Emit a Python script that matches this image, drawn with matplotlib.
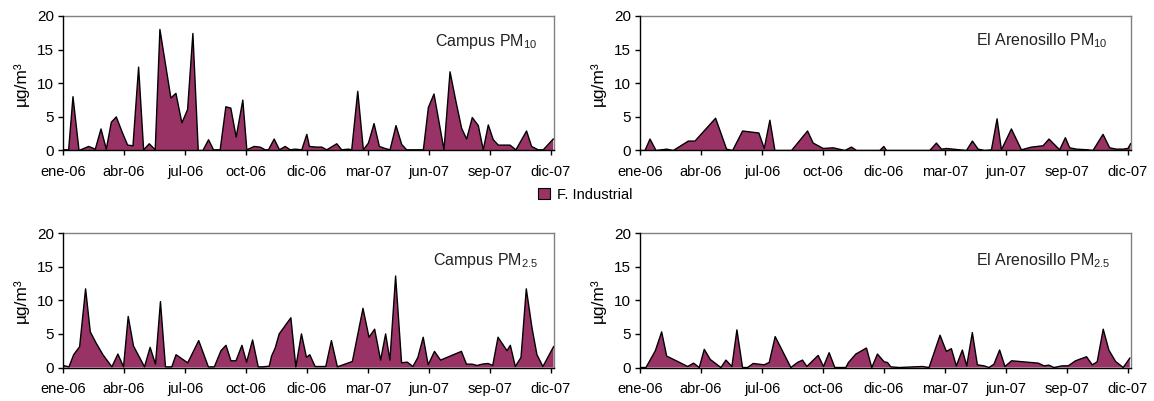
import matplotlib
matplotlib.use("Agg")
import matplotlib.pyplot as plt
from matplotlib.patches import Patch

plt.rcParams["font.family"] = ["Liberation Sans", "DejaVu Sans"]
plt.rcParams["mathtext.fontset"] = "custom"
plt.rcParams["mathtext.rm"] = "Liberation Sans"
plt.rcParams["mathtext.it"] = "Liberation Sans"

# x values are days since 1 January 2006
tick_days = [0, 91, 182, 273, 364, 455, 546, 637, 728]
tick_labels = ["ene-06", "abr-06", "jul-06", "oct-06", "dic-06",
               "mar-07", "jun-07", "sep-07", "dic-07"]

campus_pm10_day = [0, 8.4, 14.9, 23.9, 38.3, 48.2, 56.7, 64.6, 72.1, 79.5, 88.0, 96.4,
                   104.4, 112.8, 120.3, 128.7, 137.6, 144.6, 161.0, 168.5, 177.4, 185.9,
                   193.8, 201.8, 208.7, 217.2, 224.6, 234.5, 243.0, 250.4, 258.4, 268.3,
                   274.3, 285.2, 294.2, 301.6, 306.6, 315.1, 323.0, 331.5, 338.9, 346.4,
                   356.3, 363.8, 367.7, 378.7, 386.1, 393.6, 408.5, 415.9, 425.9, 430.8,
                   439.8, 448.2, 455.7, 464.1, 472.1, 480.5, 488.0, 496.9, 505.4, 512.8,
                   522.8, 537.7, 545.2, 553.6, 568.5, 577.5, 585.9, 594.8, 602.3, 610.7,
                   619.7, 627.1, 634.6, 642.0, 649.5, 659.4, 666.9, 675.8, 691.7, 699.2,
                   709.1, 716.6, 731.5]
campus_pm10_val = [0.1, 0.1, 8.0, 0.0, 0.6, 0.2, 3.2, 0.2, 4.2, 5.0, 2.8, 0.8,
                   0.7, 12.4, 0.1, 1.0, 0.1, 18.0, 7.8, 8.5, 4.1, 6.1,
                   17.4, 0.0, 0.0, 1.6, 0.1, 0.1, 6.5, 6.3, 2.0, 7.5,
                   0.1, 0.6, 0.5, 0.1, 0.1, 1.7, 0.1, 0.6, 0.1, 0.2,
                   0.1, 2.4, 0.6, 0.5, 0.5, 0.1, 1.0, 0.1, 0.2, 0.1,
                   8.8, 0.1, 1.1, 4.0, 0.6, 0.3, 0.1, 3.7, 0.9, 0.1,
                   0.1, 0.1, 6.4, 8.4, 0.1, 11.7, 7.5, 3.3, 1.7, 4.9,
                   3.7, 0.1, 3.8, 1.6, 0.8, 0.8, 0.8, 0.1, 2.9, 0.6,
                   0.1, 0.1, 1.7]

aren_pm10_day = [0, 7.5, 14.9, 23.9, 39.8, 49.7, 72.1, 82.0, 112.8, 129.2, 138.2, 153.1,
                 177.4, 185.4, 193.8, 201.3, 226.1, 250.0, 258.4, 273.4, 288.3, 305.7,
                 315.6, 323.1, 357.9, 363.8, 367.8, 432.4, 442.3, 449.8, 457.3, 477.1,
                 487.1, 496.0, 504.5, 514.4, 524.4, 532.8, 539.3, 554.2, 569.1, 584.0,
                 601.4, 610.3, 626.2, 634.7, 641.2, 651.1, 668.5, 675.9, 690.9, 700.8,
                 710.7, 720.7, 728.1, 732.0]
aren_pm10_val = [0.0, 0.0, 1.7, 0.0, 0.2, 0.0, 1.4, 1.4, 4.8, 0.2, 0.0, 2.9,
                 2.6, 0.3, 4.5, 0.0, 0.0, 2.9, 1.1, 0.3, 0.4, 0.0,
                 0.5, 0.0, 0.0, 0.6, 0.0, 0.0, 1.1, 0.2, 0.3, 0.1,
                 0.0, 1.4, 0.2, 0.0, 0.1, 4.7, 0.1, 3.2, 0.1, 0.5,
                 0.7, 1.7, 0.1, 1.9, 0.4, 0.2, 0.1, 0.0, 2.4, 0.4,
                 0.2, 0.2, 0.3, 1.0]

campus_pm25_day = [0, 8.9, 15.9, 24.8, 33.7, 40.7, 49.6, 59.6, 72.9, 81.9, 90.3, 97.3,
                   105.2, 121.6, 130.0, 138.0, 145.4, 152.9, 162.3, 168.7, 186.1, 202.5,
                   216.9, 225.8, 235.7, 243.2, 250.6, 258.1, 267.0, 273.9, 282.9, 291.3,
                   297.8, 307.7, 311.2, 316.6, 322.6, 340.0, 347.4, 355.8, 363.3, 368.2,
                   376.2, 392.1, 400.5, 409.4, 431.8, 447.6, 456.6, 465.0, 473.9, 481.4,
                   487.8, 496.3, 505.2, 513.6, 522.1, 529.5, 537.5, 544.9, 554.3, 563.3,
                   594.5, 602.0, 610.4, 617.9, 625.3, 634.2, 641.2, 649.1, 662.5, 667.5,
                   674.9, 683.4, 691.3, 699.8, 707.2, 716.1, 732.0]
campus_pm25_val = [0.3, 0.1, 1.9, 3.1, 11.7, 5.3, 3.6, 1.9, 0.1, 2.0, 0.1, 7.6,
                   3.2, 0.1, 3.0, 0.5, 9.8, 0.1, 0.1, 1.9, 0.7, 4.0,
                   0.1, 0.1, 2.5, 3.3, 1.0, 1.0, 3.3, 0.8, 4.1, 0.1,
                   0.1, 0.2, 1.7, 2.9, 5.0, 7.4, 0.1, 5.0, 1.5, 1.9,
                   0.15, 0.15, 4.0, 0.1, 0.9, 8.8, 4.5, 5.7, 1.1, 5.0,
                   1.1, 13.6, 0.7, 0.8, 0.15, 1.5, 4.5, 0.4, 2.4, 1.1,
                   2.4, 0.5, 0.5, 0.3, 0.5, 0.6, 0.3, 4.5, 2.5, 3.3,
                   0.15, 1.5, 11.7, 5.9, 1.9, 0.15, 3.1]

aren_pm25_day = [0, 8.9, 22.9, 32.3, 39.8, 56.1, 71.1, 80.0, 88.4, 95.9, 104.8, 120.7,
                 128.2, 137.1, 144.6, 153.0, 160.5, 168.9, 185.3, 192.8, 201.7, 225.1,
                 235.0, 242.5, 248.9, 265.8, 273.8, 282.2, 290.7, 307.1, 311.1, 322.0,
                 337.9, 345.8, 354.3, 364.2, 369.2, 374.2, 386.6, 421.4, 431.3, 447.7,
                 457.1, 464.6, 472.0, 481.0, 487.5, 495.9, 503.4, 513.3, 520.7, 528.2,
                 536.6, 544.6, 554.5, 594.3, 602.7, 610.2, 617.6, 630.1, 639.0, 649.9,
                 666.3, 674.8, 682.2, 691.2, 699.6, 709.6, 721.0, 730.9]
aren_pm25_val = [0.0, 0.0, 2.5, 5.3, 1.7, 0.9, 0.15, 0.65, 0.0, 2.7, 1.2, 0.0,
                 1.1, 0.15, 5.6, 0.0, 0.0, 0.6, 0.4, 0.75, 4.6, 0.0,
                 0.75, 1.1, 0.15, 1.8, 0.15, 2.2, 0.0, 0.0, 0.75, 2.0,
                 2.9, 0.0, 2.0, 0.85, 0.75, 0.1, 0.0, 0.15, 0.0, 4.8,
                 2.4, 2.8, 0.25, 2.6, 0.25, 5.2, 0.4, 0.25, 0.0, 0.5,
                 2.6, 0.15, 1.0, 0.65, 0.25, 0.35, 0.0, 0.25, 0.25, 1.0,
                 1.6, 0.4, 0.85, 5.7, 2.6, 0.9, 0.0, 1.4]

FILL = "#993366"

fig = plt.figure(figsize=(11.54, 4.01), dpi=100)

panels = [
    # (left, bottom, days, values, title, title x, title y)
    (0.0546, 0.6247, campus_pm10_day, campus_pm10_val, r"Campus PM$_{10}$", 0.967, 0.777),
    (0.5546, 0.6247, aren_pm10_day, aren_pm10_val, r"El Arenosillo PM$_{10}$", 0.952, 0.780),
    (0.0546, 0.0835, campus_pm25_day, campus_pm25_val, r"Campus PM$_{2.5}$", 0.968, 0.759),
    (0.5546, 0.0835, aren_pm25_day, aren_pm25_val, r"El Arenosillo PM$_{2.5}$", 0.959, 0.759),
]

for left, bottom, days, vals, title, tx, ty in panels:
    ax = fig.add_axes([left, bottom, 0.4251, 0.3354])
    ax.fill_between(days, vals, 0, facecolor=FILL, edgecolor="none", zorder=2)
    ax.plot(days, vals, color="black", lw=1.0, zorder=3)
    ax.set_xlim(0, 732)
    ax.set_ylim(0, 20)
    ax.set_yticks([0, 5, 10, 15, 20])
    ax.set_xticks(tick_days)
    ax.set_xticklabels(tick_labels)
    ax.tick_params(axis="both", direction="out", length=3.5, width=1.0,
                   colors="black", labelsize=10.5)
    ax.tick_params(axis="x", pad=7)
    ax.tick_params(axis="y", pad=3, labelsize=11)
    for side in ("top", "right"):
        ax.spines[side].set_color("#808080")
        ax.spines[side].set_linewidth(1.0)
    for side in ("left", "bottom"):
        ax.spines[side].set_color("black")
        ax.spines[side].set_linewidth(1.0)
        ax.spines[side].set_zorder(4)
    ax.set_ylabel("µg/m³", fontsize=12.5)
    ax.yaxis.set_label_coords(-0.070, 0.5)
    ax.text(tx, ty, title, transform=ax.transAxes, ha="right", va="baseline",
            fontsize=11.5, color="#222222")

fig.legend(handles=[Patch(facecolor=FILL, edgecolor="black", linewidth=0.8)],
           labels=["F. Industrial"], loc="center", bbox_to_anchor=(0.507, 0.514),
           frameon=False, fontsize=10.5, handlelength=0.8, handleheight=0.8,
           handletextpad=0.5)

fig.savefig("out.png", dpi=100)
